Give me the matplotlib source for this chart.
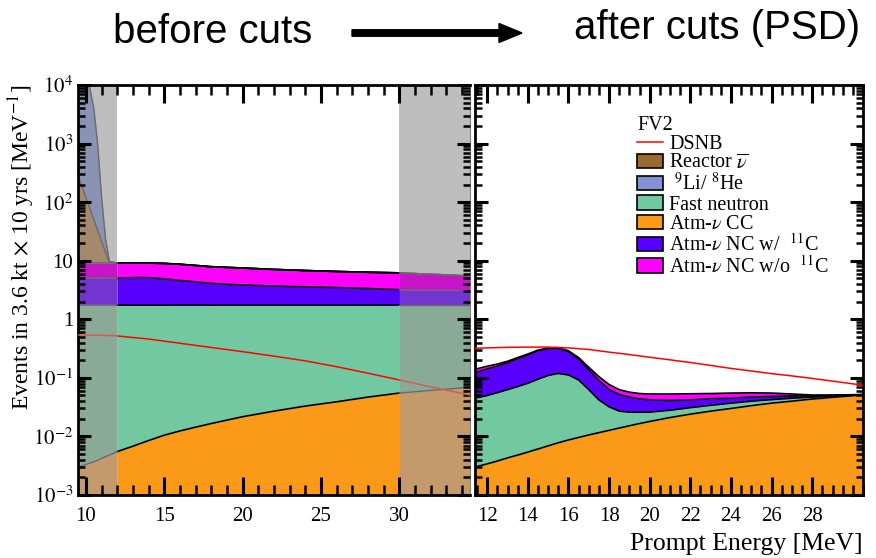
import numpy as np
import matplotlib
matplotlib.use("Agg")
import matplotlib.pyplot as plt
import matplotlib.ticker as mticker
from matplotlib.patches import Patch, FancyArrow
from matplotlib.lines import Line2D

# ---------------- data: before cuts (left panel) ----------------
E_L = [9.5, 10, 10.25, 10.5, 10.75, 11, 11.25, 11.5, 12, 13, 14, 15, 16, 17, 18,
       19, 20, 22, 24, 26, 28, 30, 32, 34.5]
cc_L = [0.0030, 0.0033, 0.0035, 0.0037, 0.0039, 0.0042, 0.0045, 0.0048, 0.0055,
        0.0068, 0.0085, 0.0105, 0.0124, 0.0144, 0.0166, 0.019, 0.0217, 0.027,
        0.033, 0.039, 0.047, 0.055, 0.061, 0.069]
fn_L = [1.747, 1.747, 1.746, 1.746, 1.746, 1.746, 1.745, 1.745, 1.744, 1.743,
        1.741, 1.739, 1.738, 1.736, 1.733, 1.731, 1.728, 1.723, 1.717, 1.711,
        1.703, 1.695, 1.689, 1.681]
ncw_L = [3.35, 3.35, 3.35, 3.35, 3.35, 3.35, 3.35, 3.35, 3.25, 3.40, 3.40, 3.15,
         2.85, 2.60, 2.35, 2.20, 2.10, 1.93, 1.83, 1.73, 1.60, 1.45, 1.40, 1.35]
ncwo_L = [4.1, 4.1, 4.1, 4.1, 4.1, 4.1, 4.1, 4.1, 4.2, 4.05, 3.95, 4.1, 4.1, 3.95,
          3.8, 3.75, 3.65, 3.42, 3.22, 3.07, 3.0, 3.0, 2.75, 2.4]
reactor_L = [279, 112, 70, 42, 24, 12.4, 4.9, 0.3, 0, 0, 0, 0, 0, 0, 0, 0, 0, 0,
             0, 0, 0, 0, 0, 0]
li9_L = [39500, 15700, 8800, 4100, 970, 104, 10, 0.2, 0, 0, 0, 0, 0, 0, 0, 0, 0,
         0, 0, 0, 0, 0, 0, 0]
E_dsnb_L = [9.5, 10, 11, 12, 14, 16, 18, 20, 22, 24, 26, 28, 30, 32, 34.5]
dsnb_L = [0.54, 0.54, 0.535, 0.52, 0.46, 0.39, 0.33, 0.28, 0.235, 0.195, 0.155,
          0.12, 0.092, 0.07, 0.051]

# ---------------- data: after cuts, PSD (right panel) ----------------
E_R = [11.4, 12, 12.5, 13, 13.5, 14, 14.5, 15, 15.5, 16, 16.5, 17, 17.5, 18,
       18.5, 19, 19.5, 20, 21, 22, 23, 24, 25, 26, 27, 28, 29, 30, 30.5]
cc_R = [0.0030, 0.0034, 0.0038, 0.0043, 0.0048, 0.0054, 0.0061, 0.0069, 0.0078,
        0.0087, 0.0096, 0.0106, 0.0116, 0.0127, 0.0139, 0.0152, 0.0166, 0.018,
        0.021, 0.024, 0.027, 0.030, 0.0335, 0.037, 0.040, 0.0435, 0.0465, 0.0495,
        0.051]
fn_R = [0.042, 0.0466, 0.0522, 0.0587, 0.0662, 0.0756, 0.0889, 0.1031, 0.1112,
        0.1033, 0.0824, 0.0524, 0.0304, 0.0193, 0.0131, 0.0108, 0.0094, 0.008,
        0.007, 0.007, 0.007, 0.007, 0.0065, 0.0055, 0.005, 0.0035, 0.0025, 0.001,
        0.0005]
ncw_R = [0.077, 0.092, 0.102, 0.117, 0.141, 0.164, 0.195, 0.205, 0.201, 0.168,
         0.118, 0.075, 0.048, 0.032, 0.025, 0.021, 0.018, 0.016, 0.013, 0.011,
         0.010, 0.008, 0.007, 0.0055, 0.004, 0.002, 0.001, 0.0005, 0.0003]
ncwo_R = [0.018, 0.016, 0.014, 0.012, 0.010, 0.010, 0.008, 0.008, 0.008, 0.010,
          0.012, 0.014, 0.015, 0.013, 0.011, 0.010, 0.010, 0.011, 0.012, 0.0115,
          0.010, 0.010, 0.0085, 0.007, 0.004, 0.002, 0.001, 0.0005, 0.0002]
E_dsnb_R = [11.4, 12, 13, 14, 15, 16, 17, 18, 19, 20, 21, 22, 23, 24, 25, 26, 27,
            28, 29, 30, 30.5]
dsnb_R = [0.32, 0.325, 0.332, 0.335, 0.335, 0.325, 0.305, 0.275, 0.25, 0.225,
          0.203, 0.183, 0.163, 0.145, 0.131, 0.118, 0.108, 0.098, 0.088, 0.079,
          0.075]

# ---------------- labels ----------------
ytick_vals = [1e-3, 1e-2, 1e-1, 1, 10, 1e2, 1e3, 1e4]
ytick_labels = ["$10^{-3}$", "$10^{-2}$", "$10^{-1}$", "1", "10",
                "$10^{2}$", "$10^{3}$", "$10^{4}$"]
xticks_L = [10, 15, 20, 25, 30]
xticks_R = [12, 14, 16, 18, 20, 22, 24, 26, 28]
legend_title = "FV2"
legend_labels = ["DSNB", r"Reactor $\overline{\nu}$", r" $^{9}$Li/ $^{8}$He",
                 "Fast neutron", r"Atm-$\nu$ CC", r"Atm-$\nu$ NC w/  $^{11}$C",
                 r"Atm-$\nu$ NC w/o  $^{11}$C"]
cut_regions = [(9.5, 12), (30, 34.5)]

# ---------------- styles ----------------
plt.rcParams["font.family"] = ["Liberation Serif", "DejaVu Serif"]
plt.rcParams["mathtext.fontset"] = "stix"
plt.rcParams["xtick.labelsize"] = 15
plt.rcParams["ytick.labelsize"] = 15

col = {"cc": "#fb9a18", "fn": "#72c9a1", "ncw": "#5800ff", "ncwo": "#ff00ff",
       "reactor": "#9b6a30", "li9": "#8591d6"}
shade = {"cc": "#c49a6c", "fn": "#88aa96", "ncw": "#7335cf", "ncwo": "#c814c8",
         "reactor": "#a38a6c", "li9": "#8a93b4"}

fig = plt.figure(figsize=(8.76, 5.58), dpi=100)
axL = fig.add_axes([78 / 876, 1 - 495 / 558, 392 / 876, 410 / 558])
axR = fig.add_axes([475 / 876, 1 - 495 / 558, 388 / 876, 410 / 558])


def draw_layers(ax, E, comps, keys, white_mask, gray_masks):
    E = np.asarray(E, float)
    tops = np.cumsum(np.vstack([np.asarray(c, float) for c in comps]), axis=0)
    bottoms = np.vstack([np.full(len(E), 1e-5), tops[:-1]])
    for lo, hi, k in zip(bottoms, tops, keys):
        ax.fill_between(E, lo, hi, where=white_mask, color=col[k], lw=0, zorder=1)
        for gm in gray_masks:
            ax.fill_between(E, lo, hi, where=gm, color=shade[k], lw=0, zorder=1)
    for hi in tops:
        ax.plot(E, np.where(white_mask, hi, np.nan), color="black", lw=1.2, zorder=2)
        for gm in gray_masks:
            ax.plot(E, np.where(gm, hi, np.nan), color="#6a6a6a", lw=1.0, zorder=2)


# left panel
EL = np.asarray(E_L)
for a, b in cut_regions:
    axL.axvspan(a, b, color="#bebebe", lw=0, zorder=0)
white_L = (EL >= cut_regions[0][1]) & (EL <= cut_regions[1][0])
gray_L = [EL <= cut_regions[0][1], EL >= cut_regions[1][0]]
draw_layers(axL, E_L, [cc_L, fn_L, ncw_L, ncwo_L, reactor_L, li9_L],
            ["cc", "fn", "ncw", "ncwo", "reactor", "li9"], white_L, gray_L)
ED = np.asarray(E_dsnb_L)
dL = np.asarray(dsnb_L)
wD = (ED >= cut_regions[0][1]) & (ED <= cut_regions[1][0])
axL.plot(ED, np.where(wD, dL, np.nan), color="#ff0000", lw=1.1, zorder=3)
axL.plot(ED, np.where(ED <= cut_regions[0][1], dL, np.nan), color="#d45a5a", lw=1.1, zorder=3)
axL.plot(ED, np.where(ED >= cut_regions[1][0], dL, np.nan), color="#d45a5a", lw=1.1, zorder=3)

# right panel
ER = np.asarray(E_R)
draw_layers(axR, E_R, [cc_R, fn_R, ncw_R, ncwo_R], ["cc", "fn", "ncw", "ncwo"],
            np.ones(len(ER), bool), [])
axR.plot(E_dsnb_R, dsnb_R, color="#ff0000", lw=1.1, zorder=3)

# axes
axL.set_xlim(9.5, 34.5)
axR.set_xlim(11.4, 30.5)
for ax in (axL, axR):
    ax.set_yscale("log")
    ax.set_ylim(1e-3, 1e4)
    ax.set_yticks(ytick_vals)
    ax.yaxis.set_minor_locator(mticker.LogLocator(base=10, subs=np.arange(2, 10), numticks=30))
    ax.yaxis.set_minor_formatter(mticker.NullFormatter())

axL.set_yticklabels(ytick_labels)
axR.set_yticklabels([""] * len(ytick_vals))
axL.set_xticks(xticks_L)
axL.set_xticklabels([str(v) for v in xticks_L])
axL.xaxis.set_minor_locator(mticker.MultipleLocator(1))
axR.set_xticks(xticks_R)
axR.set_xticklabels([str(v) for v in xticks_R])
axR.xaxis.set_minor_locator(mticker.MultipleLocator(0.5))

for ax in (axL, axR):
    ax.set_axisbelow(False)
    ax.tick_params(axis="x", which="major", direction="in", length=13, width=2.2,
                   pad=8.5, top=True, bottom=True, color="black")
    ax.tick_params(axis="x", which="minor", direction="in", length=7, width=1.8,
                   top=True, bottom=True, color="black")
    ax.tick_params(axis="y", which="major", direction="in", length=9.5, width=2.2,
                   pad=3.5, left=True, right=True, color="black")
    ax.tick_params(axis="y", which="minor", direction="in", length=5, width=1.8,
                   left=True, right=True, color="black")
    for s in ax.spines.values():
        s.set_linewidth(2.0)
        s.set_color("black")

axL.spines["right"].set_linewidth(0.8)
axL.spines["right"].set_color("#808080")

axL.set_ylabel(r"Events in 3.6 kt $\times$ 10 yrs [MeV$^{-1}$]", fontsize=17)
axL.yaxis.set_label_coords(-0.105, 0.603)
fig.text(863 / 876, 1 - 544 / 558, "Prompt Energy [MeV]", ha="right", va="center",
         fontsize=18.5)

# legend
handles = [Line2D([], [], color="#ff0000", lw=1.1)]
for k in ["reactor", "li9", "fn", "cc", "ncw", "ncwo"]:
    handles.append(Patch(facecolor=col[k], edgecolor="black", lw=1.2))
axR.legend(handles, legend_labels, title=legend_title, loc="upper left",
           bbox_to_anchor=(0.4175, 0.925), frameon=False, fontsize=14.5,
           title_fontsize=14.5, alignment="left", borderpad=0, borderaxespad=0,
           handlelength=1.3, handleheight=0.7, handletextpad=0.3,
           labelspacing=0.0)

# header
fig.text(213 / 876, 1 - 32 / 558, "before cuts", family="Liberation Sans",
         fontsize=29, ha="center", va="center")
fig.text(717 / 876, 1 - 28 / 558, "after cuts (PSD)", family="Liberation Sans",
         fontsize=29, ha="center", va="center")
fig.add_artist(FancyArrow(3.52, (558 - 33) / 100, 1.70, 0, width=0.065,
                          head_width=0.19, head_length=0.23,
                          length_includes_head=True, color="black",
                          transform=fig.dpi_scale_trans))

fig.savefig("out.png", dpi=100)
